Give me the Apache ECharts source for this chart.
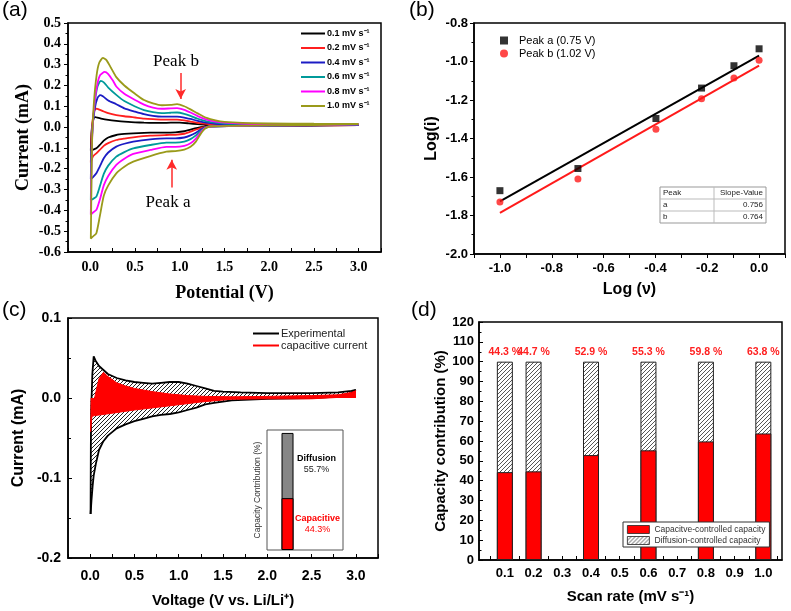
<!DOCTYPE html>
<html><head><meta charset="utf-8">
<script src="https://cdn.jsdelivr.net/npm/echarts@6/dist/echarts.min.js"></script>
<style>html,body{margin:0;padding:0;background:#fff}#c{width:791px;height:611px}</style>
</head><body><div id="c"></div>
<script>
// ---------- Panel (a): CV curves at different scan rates ----------
const rateNames = ['0.1 mV s⁻¹', '0.2 mV s⁻¹', '0.4 mV s⁻¹', '0.6 mV s⁻¹', '0.8 mV s⁻¹', '1.0 mV s⁻¹'];
const rateColors = ['#000000', '#ff1f1f', '#1c1cc4', '#009a9a', '#ff00ff', '#9a9a1a'];
const cv01 = [[3.0,0.009],[2.5,0.007],[2.0,0.006],[1.6,0.005],[1.3,0.003],[1.2,-0.004],[1.12,-0.012],[1.05,-0.02],[0.95,-0.025],[0.85,-0.027],[0.67,-0.027],[0.48,-0.03],[0.38,-0.033],[0.29,-0.038],[0.2,-0.05],[0.15,-0.065],[0.105,-0.086],[0.067,-0.102],[0.03,-0.108],[0.005,-0.112],
  [0.012,-0.03],[0.025,0.02],[0.04,0.045],[0.055,0.048],[0.08,0.045],[0.12,0.041],[0.2,0.035],[0.29,0.03],[0.38,0.026],[0.5,0.023],[0.6,0.021],[0.7,0.02],[0.8,0.02],[0.9,0.021],[1.0,0.021],[1.1,0.018],[1.2,0.014],[1.3,0.011],[1.5,0.01],[2.0,0.009],[2.5,0.009],[3.0,0.009]];
const cv02 = [[3.0,0.01],[2.5,0.008],[2.0,0.007],[1.6,0.005],[1.35,0.004],[1.25,-0.002],[1.18,-0.012],[1.12,-0.022],[1.05,-0.032],[0.95,-0.037],[0.85,-0.038],[0.67,-0.041],[0.48,-0.049],[0.38,-0.055],[0.29,-0.062],[0.2,-0.077],[0.15,-0.09],[0.105,-0.11],[0.067,-0.126],[0.03,-0.14],[0.005,-0.17],
  [0.012,-0.05],[0.025,0.03],[0.045,0.08],[0.07,0.089],[0.1,0.084],[0.15,0.075],[0.2,0.067],[0.29,0.058],[0.38,0.052],[0.5,0.046],[0.6,0.041],[0.7,0.038],[0.8,0.036],[0.9,0.036],[0.97,0.036],[1.05,0.032],[1.12,0.026],[1.2,0.02],[1.3,0.015],[1.4,0.012],[1.6,0.011],[2.0,0.011],[2.5,0.011],[3.0,0.011]];
const cv04 = [[3.0,0.011],[2.5,0.008],[2.0,0.007],[1.6,0.005],[1.35,0.004],[1.28,-0.002],[1.23,-0.013],[1.18,-0.027],[1.12,-0.04],[1.05,-0.05],[0.95,-0.054],[0.85,-0.054],[0.67,-0.059],[0.48,-0.07],[0.38,-0.08],[0.29,-0.094],[0.2,-0.122],[0.15,-0.15],[0.105,-0.19],[0.067,-0.222],[0.03,-0.24],[0.005,-0.25],
  [0.012,-0.1],[0.025,0.0],[0.05,0.09],[0.08,0.14],[0.11,0.154],[0.14,0.148],[0.2,0.128],[0.29,0.11],[0.38,0.09],[0.5,0.074],[0.6,0.062],[0.7,0.054],[0.8,0.05],[0.9,0.05],[0.97,0.05],[1.05,0.046],[1.12,0.039],[1.2,0.03],[1.3,0.021],[1.4,0.016],[1.5,0.013],[2.0,0.012],[2.5,0.012],[3.0,0.012]];
const cv06 = [[3.0,0.012],[2.5,0.009],[2.0,0.007],[1.6,0.005],[1.35,0.004],[1.28,-0.004],[1.23,-0.02],[1.18,-0.04],[1.12,-0.058],[1.05,-0.07],[0.95,-0.075],[0.85,-0.075],[0.67,-0.086],[0.48,-0.102],[0.38,-0.12],[0.29,-0.142],[0.2,-0.185],[0.15,-0.225],[0.105,-0.286],[0.067,-0.334],[0.03,-0.345],[0.005,-0.35],
  [0.012,-0.15],[0.025,0.0],[0.05,0.12],[0.08,0.195],[0.115,0.222],[0.15,0.215],[0.2,0.19],[0.29,0.155],[0.38,0.125],[0.5,0.099],[0.6,0.082],[0.7,0.072],[0.8,0.067],[0.9,0.069],[0.97,0.07],[1.05,0.064],[1.12,0.054],[1.2,0.04],[1.3,0.028],[1.4,0.021],[1.5,0.017],[1.7,0.015],[2.0,0.014],[2.5,0.013],[3.0,0.013]];
const cv08 = [[3.0,0.013],[2.5,0.009],[2.0,0.008],[1.6,0.006],[1.35,0.004],[1.28,-0.006],[1.23,-0.028],[1.18,-0.055],[1.12,-0.078],[1.05,-0.09],[0.95,-0.095],[0.85,-0.095],[0.67,-0.11],[0.48,-0.129],[0.38,-0.152],[0.29,-0.182],[0.2,-0.235],[0.15,-0.28],[0.105,-0.35],[0.067,-0.398],[0.03,-0.41],[0.005,-0.42],
  [0.012,-0.2],[0.025,0.0],[0.05,0.13],[0.08,0.21],[0.11,0.25],[0.16,0.265],[0.2,0.255],[0.25,0.225],[0.29,0.195],[0.38,0.16],[0.5,0.13],[0.6,0.108],[0.7,0.094],[0.8,0.088],[0.9,0.09],[0.97,0.091],[1.05,0.083],[1.12,0.07],[1.2,0.053],[1.3,0.036],[1.4,0.026],[1.5,0.021],[1.7,0.017],[2.0,0.015],[2.5,0.014],[3.0,0.014]];
const cv10 = [[3.0,0.014],[2.5,0.01],[2.0,0.008],[1.6,0.006],[1.35,0.004],[1.28,-0.008],[1.23,-0.035],[1.18,-0.07],[1.12,-0.095],[1.05,-0.108],[0.95,-0.115],[0.85,-0.118],[0.67,-0.139],[0.48,-0.166],[0.38,-0.19],[0.29,-0.222],[0.2,-0.28],[0.15,-0.33],[0.105,-0.43],[0.067,-0.51],[0.03,-0.525],[0.005,-0.535],
  [0.012,-0.3],[0.02,-0.05],[0.04,0.12],[0.07,0.25],[0.1,0.31],[0.14,0.332],[0.18,0.322],[0.23,0.285],[0.29,0.24],[0.38,0.2],[0.5,0.16],[0.6,0.13],[0.7,0.114],[0.8,0.105],[0.9,0.107],[0.97,0.11],[1.05,0.1],[1.12,0.085],[1.2,0.066],[1.3,0.044],[1.4,0.032],[1.5,0.025],[1.7,0.02],[2.0,0.018],[2.5,0.016],[3.0,0.015]];
const cvCurves = [cv01, cv02, cv04, cv06, cv08, cv10];
const peakArrows = [[[1.01, 0.26], [1.01, 0.135]], [[0.91, -0.29], [0.91, -0.157]]];

// ---------- Panel (b): log(i) vs log(v) ----------
const logV = [-1.0, -0.699, -0.398, -0.222, -0.097, 0.0];
const logIa = [-1.671, -1.556, -1.296, -1.138, -1.022, -0.934];
const logIb = [-1.730, -1.610, -1.352, -1.194, -1.086, -0.993];
const fitA = [[-1.0, -1.726], [0.0, -0.970]];
const fitB = [[-1.0, -1.786], [0.0, -1.022]];
const slopeTable = [['Peak', 'Slope-Value'], ['a', '0.756'], ['b', '0.764']];

// ---------- Panel (c): experimental vs capacitive current at 0.1 mV/s ----------
const expUpper = [[0.005,-0.145],[0.008,-0.06],[0.012,-0.015],[0.025,0.03],[0.04,0.052],[0.06,0.047],[0.1,0.04],[0.15,0.035],[0.2,0.03],[0.3,0.025],[0.4,0.022],[0.5,0.02],[0.6,0.019],[0.7,0.018],[0.8,0.019],[0.9,0.02],[1.0,0.02],[1.1,0.018],[1.2,0.015],[1.3,0.012],[1.4,0.009],[1.5,0.008],[1.7,0.007],[2.0,0.006],[2.5,0.006],[2.8,0.007],[2.95,0.009],[3.0,0.01]];
const expLower = [[3.0,0.01],[2.9,0.004],[2.7,0.001],[2.5,0.0],[2.0,-0.001],[1.6,-0.003],[1.4,-0.006],[1.3,-0.008],[1.2,-0.012],[1.1,-0.015],[1.0,-0.018],[0.9,-0.02],[0.8,-0.021],[0.7,-0.023],[0.6,-0.026],[0.5,-0.029],[0.4,-0.033],[0.3,-0.038],[0.2,-0.047],[0.15,-0.054],[0.1,-0.065],[0.065,-0.082],[0.04,-0.097],[0.028,-0.11],[0.015,-0.128],[0.005,-0.145]];
const capUpper = [[0.005,-0.042],[0.01,-0.025],[0.03,-0.012],[0.06,0.005],[0.1,0.024],[0.15,0.032],[0.2,0.027],[0.3,0.019],[0.4,0.015],[0.5,0.012],[0.7,0.008],[0.9,0.005],[1.1,0.003],[1.3,0.002],[1.6,0.0015],[2.0,0.002],[2.5,0.003],[2.8,0.004],[2.95,0.007],[3.0,0.009]];
const capLower = [[3.0,0.009],[2.95,0.004],[2.85,0.001],[2.5,-0.001],[2.0,-0.001],[1.6,-0.0015],[1.25,-0.005],[0.88,-0.01],[0.5,-0.015],[0.25,-0.019],[0.12,-0.021],[0.05,-0.022],[0.02,-0.023],[0.01,-0.035],[0.005,-0.042]];
const insetCap = 44.3;
const insetDiff = 55.7;

// ---------- Panel (d): capacity contribution ----------
const scanRates = [0.1, 0.2, 0.4, 0.6, 0.8, 1.0];
const capPct = [44.3, 44.7, 52.9, 55.3, 59.8, 63.8];
const diffPct = [55.7, 55.3, 47.1, 44.7, 40.2, 36.2];
const dLabelVals = [0.1, 0.2, 0.3, 0.4, 0.5, 0.6, 0.7, 0.8, 0.9, 1.0];
const dTickVals = [0.05, 0.1, 0.15, 0.2, 0.25, 0.3, 0.35, 0.4, 0.45, 0.5, 0.55, 0.6, 0.65, 0.7, 0.75, 0.8, 0.85, 0.9, 0.95, 1.0, 1.05];

// ---------- helpers ----------
const SANS = "'Liberation Sans', Arial, sans-serif";
const SERIF = "'Liberation Serif', 'Times New Roman', serif";
function hatch(size, fg, lw, bg) {
  const c = document.createElement('canvas');
  c.width = size; c.height = size;
  const g = c.getContext('2d');
  g.fillStyle = bg; g.fillRect(0, 0, size, size);
  g.strokeStyle = fg; g.lineWidth = lw;
  g.beginPath();
  g.moveTo(-1, size + 1); g.lineTo(size + 1, -1);
  g.moveTo(-1, 1); g.lineTo(1, -1);
  g.moveTo(size - 1, size + 1); g.lineTo(size + 1, size - 1);
  g.stroke();
  return { image: c, repeat: 'repeat' };
}
const hatchC = hatch(4, '#222', 1, '#ffffff');
const hatchD = hatch(4, '#444', 0.9, '#ffffff');
const f1 = v => v.toFixed(1);

function axisBase(extra) {
  return Object.assign({
    type: 'value',
    axisLine: { show: true, onZero: false, lineStyle: { color: '#000', width: 1.5 } },
    axisTick: { show: true, inside: false, length: 4, lineStyle: { color: '#000', width: 1 } },
    splitLine: { show: false },
  }, extra);
}

const chart = echarts.init(document.getElementById('c'), null, { renderer: 'canvas' });

const series = [];
cvCurves.forEach((d, i) => {
  series.push({
    name: rateNames[i], type: 'line', xAxisIndex: 0, yAxisIndex: 0, data: d,
    showSymbol: false, symbol: 'none', smooth: 0.2, color: rateColors[i],
    lineStyle: { width: 1.8, color: rateColors[i] }, z: 2 + i,
    markLine: i === 0 ? {
      silent: true, symbol: ['none', 'arrow'], symbolSize: [8, 10], animation: false,
      lineStyle: { color: '#ff2a2a', width: 1.5, type: 'solid' }, label: { show: false },
      data: peakArrows.map(a => [{ coord: a[0] }, { coord: a[1] }])
    } : undefined
  });
});
// panel b
series.push({ name: 'fitA', type: 'line', xAxisIndex: 1, yAxisIndex: 1, data: fitA, showSymbol: false, symbol: 'none', lineStyle: { color: '#000', width: 2 }, color: '#000', z: 2 });
series.push({ name: 'fitB', type: 'line', xAxisIndex: 1, yAxisIndex: 1, data: fitB, showSymbol: false, symbol: 'none', lineStyle: { color: '#ff1a1a', width: 2 }, color: '#ff1a1a', z: 2 });
series.push({ name: 'Peak a (0.75 V)', type: 'scatter', xAxisIndex: 1, yAxisIndex: 1, data: logV.map((x, i) => [x, logIa[i]]), symbol: 'rect', symbolSize: 7, itemStyle: { color: '#000' }, color: '#000', z: 5 });
series.push({ name: 'Peak b (1.02 V)', type: 'scatter', xAxisIndex: 1, yAxisIndex: 1, data: logV.map((x, i) => [x, logIb[i]]), symbol: 'circle', symbolSize: 7, itemStyle: { color: '#ff1a1a' }, color: '#ff1a1a', z: 5 });
// panel c
series.push({ name: 'Experimental', type: 'line', xAxisIndex: 2, yAxisIndex: 2, data: expUpper, showSymbol: false, symbol: 'none', color: '#000', lineStyle: { color: '#000', width: 1.8 }, areaStyle: { color: hatchC, opacity: 1, origin: 0 }, z: 2 });
series.push({ name: 'Experimental', type: 'line', xAxisIndex: 2, yAxisIndex: 2, data: expLower, showSymbol: false, symbol: 'none', color: '#000', lineStyle: { color: '#000', width: 1.8 }, areaStyle: { color: hatchC, opacity: 1, origin: 0 }, z: 2 });
series.push({ name: 'capacitive current', type: 'line', xAxisIndex: 2, yAxisIndex: 2, data: capUpper, showSymbol: false, symbol: 'none', color: '#ff0000', lineStyle: { color: '#ff0000', width: 1 }, areaStyle: { color: '#ff0000', opacity: 1, origin: 0 }, z: 3 });
series.push({ name: 'capacitive current', type: 'line', xAxisIndex: 2, yAxisIndex: 2, data: capLower, showSymbol: false, symbol: 'none', color: '#ff0000', lineStyle: { color: '#ff0000', width: 1 }, areaStyle: { color: '#ff0000', opacity: 1, origin: 0 }, z: 3 });
// panel c inset (total bar = capacitive + diffusion, capacitive overlaid)
series.push({ name: 'insetDiff', type: 'bar', xAxisIndex: 4, yAxisIndex: 4, barWidth: 12, barGap: '-100%', data: [[0.27, insetCap + insetDiff]],
  itemStyle: { color: '#868686', borderColor: '#000', borderWidth: 1 }, z: 5,
  label: { show: true, position: [15, 20], formatter: '{t|Diffusion}\n{v|' + insetDiff.toFixed(1) + '%}',
    rich: { t: { fontFamily: SANS, fontWeight: 'bold', fontSize: 9, color: '#000', width: 40, align: 'center', lineHeight: 11 },
            v: { fontFamily: SANS, fontSize: 9, color: '#222', width: 40, align: 'center', lineHeight: 11 } } } });
series.push({ name: 'insetCap', type: 'bar', xAxisIndex: 4, yAxisIndex: 4, barWidth: 12, barGap: '-100%', data: [[0.27, insetCap]],
  itemStyle: { color: '#ff0000', borderColor: '#000', borderWidth: 1 }, z: 6,
  label: { show: true, position: 'right', distance: 1, formatter: '{t|Capacitive}\n{v|' + insetCap.toFixed(1) + '%}',
    rich: { t: { fontFamily: SANS, fontWeight: 'bold', fontSize: 9, color: '#ff0000', width: 46, align: 'center', lineHeight: 11 },
            v: { fontFamily: SANS, fontSize: 9, color: '#ff0000', width: 46, align: 'center', lineHeight: 11 } } } });
// panel d (hatched total bar with red capacitive part overlaid)
series.push({ name: 'Diffusion-controlled capacity', type: 'bar', xAxisIndex: 3, yAxisIndex: 3, barWidth: 16, barGap: '-100%',
  data: scanRates.map((x, i) => [x, capPct[i] + diffPct[i]]), color: hatchD,
  itemStyle: { color: hatchD, borderColor: '#222', borderWidth: 1 }, z: 2,
  label: { show: true, position: 'top', distance: 4, color: '#ff2020', fontFamily: SANS, fontWeight: 'bold', fontSize: 10.5,
    formatter: p => capPct[p.dataIndex].toFixed(1) + ' %' } });
series.push({ name: 'Capacitve-controlled capacity', type: 'bar', xAxisIndex: 3, yAxisIndex: 3, barWidth: 16, barGap: '-100%',
  data: scanRates.map((x, i) => [x, capPct[i]]), color: '#ff0000',
  itemStyle: { color: '#ff0000', borderColor: '#222', borderWidth: 1 }, z: 3 });

const graphic = [
  { type: 'text', left: 2, top: 0, style: { text: '(a)', font: '21px ' + SANS, fill: '#000' } },
  { type: 'text', left: 409, top: 0, style: { text: '(b)', font: '21px ' + SANS, fill: '#000' } },
  { type: 'text', left: 2, top: 300, style: { text: '(c)', font: '21px ' + SANS, fill: '#000' } },
  { type: 'text', left: 411, top: 300, style: { text: '(d)', font: '21px ' + SANS, fill: '#000' } },
  { type: 'text', x: 176, y: 62, style: { text: 'Peak b', font: '17px ' + SERIF, fill: '#000', align: 'center', verticalAlign: 'middle' } },
  { type: 'text', x: 168, y: 203, style: { text: 'Peak a', font: '17px ' + SERIF, fill: '#000', align: 'center', verticalAlign: 'middle' } },
  { type: 'rect', shape: { x: 660, y: 187, width: 106, height: 36 }, style: { fill: '#fff', stroke: '#999', lineWidth: 1 }, z: 10 },
  { type: 'line', shape: { x1: 660, y1: 199, x2: 766, y2: 199 }, style: { stroke: '#bbb', lineWidth: 1 }, z: 11 },
  { type: 'line', shape: { x1: 660, y1: 211, x2: 766, y2: 211 }, style: { stroke: '#bbb', lineWidth: 1 }, z: 11 },
  { type: 'line', shape: { x1: 714, y1: 187, x2: 714, y2: 223 }, style: { stroke: '#bbb', lineWidth: 1 }, z: 11 }
];
slopeTable.forEach((row, r) => {
  graphic.push({ type: 'text', x: 663, y: 193 + r * 12, z: 12, style: { text: row[0], font: '8px ' + SANS, fill: '#222', verticalAlign: 'middle' } });
  graphic.push({ type: 'text', x: 763, y: 193 + r * 12, z: 12, style: { text: row[1], font: '8px ' + SANS, fill: '#222', align: 'right', verticalAlign: 'middle' } });
});

const option = {
  animation: false,
  backgroundColor: '#fff',
  grid: [
    { left: 68, top: 23, width: 313, height: 229, show: true, borderColor: '#000', borderWidth: 1.5, backgroundColor: 'transparent', outerBoundsMode: 'none', containLabel: false },
    { left: 474, top: 23, width: 311, height: 231, show: true, borderColor: '#000', borderWidth: 1.5, backgroundColor: 'transparent', outerBoundsMode: 'none', containLabel: false },
    { left: 68, top: 318, width: 310, height: 240, show: true, borderColor: '#000', borderWidth: 1.5, backgroundColor: 'transparent', outerBoundsMode: 'none', containLabel: false },
    { left: 479, top: 322, width: 303, height: 238, show: true, borderColor: '#000', borderWidth: 1.5, backgroundColor: 'transparent', outerBoundsMode: 'none', containLabel: false },
    { left: 267, top: 430, width: 76, height: 120, show: true, borderColor: '#555', borderWidth: 1, backgroundColor: '#fff', outerBoundsMode: 'none', containLabel: false, z: 4 }
  ],
  xAxis: [
    axisBase({ gridIndex: 0, min: -0.25, max: 3.25, interval: 0.25,
      name: 'Potential (V)', nameLocation: 'middle', nameGap: 32,
      nameTextStyle: { fontFamily: SERIF, fontWeight: 'bold', fontSize: 18, color: '#000' },
      axisTick: { show: true, inside: true, length: 4, lineStyle: { color: '#000' } },
      axisLabel: { margin: 8, fontFamily: SERIF, fontWeight: 'bold', fontSize: 14, color: '#000',
        formatter: v => (Math.abs(v * 2 - Math.round(v * 2)) < 1e-6 && v > -0.01 && v < 3.01) ? f1(v) : '' } }),
    axisBase({ gridIndex: 1, min: -1.1, max: 0.1, interval: 0.1,
      name: 'Log (ν)', nameLocation: 'middle', nameGap: 28,
      nameTextStyle: { fontFamily: SANS, fontWeight: 'bold', fontSize: 16, color: '#000' },
      axisLabel: { margin: 8, fontFamily: SANS, fontWeight: 'bold', fontSize: 13, color: '#000',
        formatter: v => { const k = Math.round(v * 10); return (k % 2 === 0 && k >= -10 && k <= 0) ? f1(v) : ''; } } }),
    axisBase({ gridIndex: 2, min: -0.25, max: 3.25, interval: 0.25,
      name: 'Voltage (V vs. Li/Li⁺)', nameLocation: 'middle', nameGap: 35,
      nameTextStyle: { fontFamily: SANS, fontWeight: 'bold', fontSize: 15, color: '#000' },
      axisTick: { show: true, inside: true, length: 4, lineStyle: { color: '#000' } },
      axisLabel: { margin: 11, fontFamily: SANS, fontWeight: 'bold', fontSize: 14, color: '#000',
        formatter: v => (Math.abs(v * 2 - Math.round(v * 2)) < 1e-6 && v > -0.01 && v < 3.01) ? f1(v) : '' } }),
    axisBase({ gridIndex: 3, min: 0.01, max: 1.065,
      name: 'Scan rate (mV s⁻¹)', nameLocation: 'middle', nameGap: 29,
      nameTextStyle: { fontFamily: SANS, fontWeight: 'bold', fontSize: 15, color: '#000' },
      axisTick: { show: true, inside: true, length: 4, customValues: dTickVals, lineStyle: { color: '#000' } },
      axisLabel: { margin: 7, fontFamily: SANS, fontWeight: 'bold', fontSize: 13, color: '#000', customValues: dLabelVals, formatter: f1 } }),
    { type: 'value', gridIndex: 4, min: 0, max: 1, show: false }
  ],
  yAxis: [
    axisBase({ gridIndex: 0, min: -0.6, max: 0.5, interval: 0.1,
      name: 'Current (mA)', nameLocation: 'middle', nameGap: 36, nameRotate: 90,
      nameTextStyle: { fontFamily: SERIF, fontWeight: 'bold', fontSize: 18, color: '#000' },
      minorTick: { show: true, splitNumber: 2, length: 2.5, lineStyle: { color: '#000' } },
      axisLabel: { margin: 7, fontFamily: SERIF, fontWeight: 'bold', fontSize: 14, color: '#000', formatter: f1 } }),
    axisBase({ gridIndex: 1, min: -2.0, max: -0.8, interval: 0.2,
      name: 'Log(i)', nameLocation: 'middle', nameGap: 34, nameRotate: 90,
      nameTextStyle: { fontFamily: SANS, fontWeight: 'bold', fontSize: 16, color: '#000' },
      minorTick: { show: true, splitNumber: 2, length: 2.5, lineStyle: { color: '#000' } },
      axisLabel: { margin: 6, fontFamily: SANS, fontWeight: 'bold', fontSize: 13, color: '#000', formatter: f1 } }),
    axisBase({ gridIndex: 2, min: -0.2, max: 0.1, interval: 0.1,
      name: 'Current (mA)', nameLocation: 'middle', nameGap: 41, nameRotate: 90,
      nameTextStyle: { fontFamily: SANS, fontWeight: 'bold', fontSize: 16, color: '#000' },
      axisTick: { show: true, inside: true, length: 4, lineStyle: { color: '#000' } },
      minorTick: { show: true, splitNumber: 2, length: 3, lineStyle: { color: '#000' } },
      axisLabel: { margin: 7, fontFamily: SANS, fontWeight: 'bold', fontSize: 14, color: '#000', formatter: f1 } }),
    axisBase({ gridIndex: 3, min: 0, max: 120, interval: 10,
      name: 'Capacity contribution (%)', nameLocation: 'middle', nameGap: 31, nameRotate: 90,
      nameTextStyle: { fontFamily: SANS, fontWeight: 'bold', fontSize: 15, color: '#000' },
      axisTick: { show: true, inside: true, length: 4, lineStyle: { color: '#000' } },
      minorTick: { show: true, splitNumber: 2, length: 2.5, lineStyle: { color: '#000' } },
      axisLabel: { margin: 5, fontFamily: SANS, fontWeight: 'bold', fontSize: 13, color: '#000' } }),
    { type: 'value', gridIndex: 4, min: 0, max: 102.5, axisLine: { show: false }, axisTick: { show: false }, axisLabel: { show: false }, splitLine: { show: false },
      name: 'Capacity Contribution (%)', nameLocation: 'middle', nameGap: 5, nameRotate: 90,
      nameTextStyle: { fontFamily: SANS, fontSize: 8.5, color: '#333' } }
  ],
  legend: [
    { data: rateNames, orient: 'vertical', left: 301, top: 29, padding: 0, itemGap: 5.5, itemWidth: 24, itemHeight: 2, icon: 'rect',
      textStyle: { fontFamily: SANS, fontWeight: 'bold', fontSize: 9, color: '#000', padding: [0, 0, 0, -3] }, selectedMode: false },
    { data: ['Peak a (0.75 V)', 'Peak b (1.02 V)'], orient: 'vertical', left: 500, top: 35, padding: 0, itemGap: 2, itemWidth: 8, itemHeight: 8,
      textStyle: { fontFamily: SANS, fontSize: 11, color: '#000', padding: [0, 0, 0, 6] }, selectedMode: false },
    { data: ['Experimental', 'capacitive current'], orient: 'vertical', left: 253, top: 328, padding: 0, itemGap: 1, itemWidth: 26, itemHeight: 2, icon: 'rect',
      textStyle: { fontFamily: SANS, fontSize: 11, color: '#222', padding: [0, 0, 0, -3] }, selectedMode: false },
    { data: ['Capacitve-controlled capacity', 'Diffusion-controlled capacity'], orient: 'vertical', left: 623, top: 522, padding: [3, 4, 2, 4], itemGap: 2,
      itemWidth: 22, itemHeight: 8, icon: 'rect', borderColor: '#333', borderWidth: 1, backgroundColor: '#fff', z: 20,
      itemStyle: { borderColor: '#222', borderWidth: 0.8 },
      textStyle: { fontFamily: SANS, fontSize: 8.5, color: '#333' }, selectedMode: false }
  ],
  graphic: graphic,
  series: series
};
chart.setOption(option);
</script></body></html>
